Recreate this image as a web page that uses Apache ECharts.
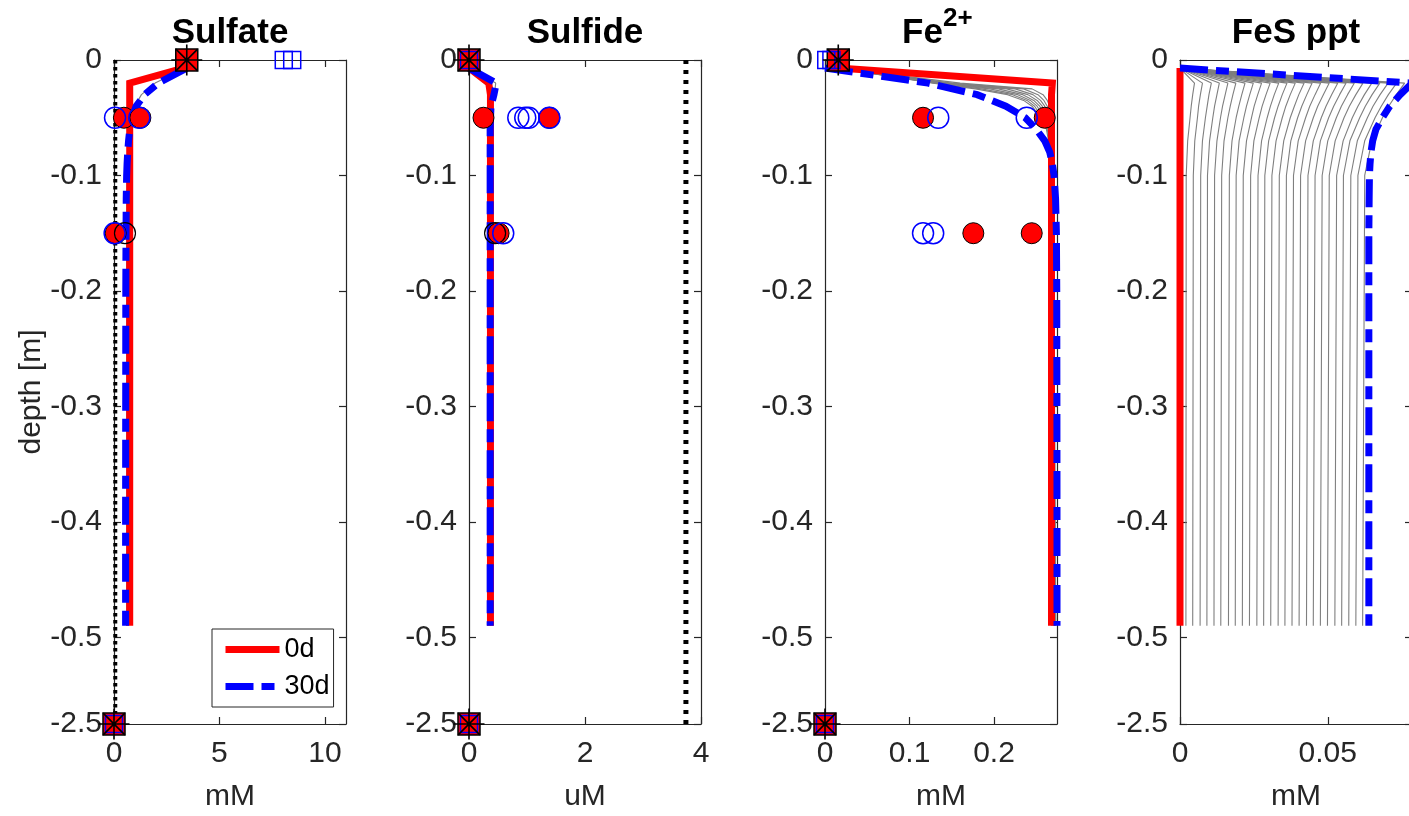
<!DOCTYPE html>
<html>
<head>
<meta charset="utf-8">
<script src="https://cdn.jsdelivr.net/npm/echarts@6/dist/echarts.min.js"></script>
<style>
  html, body { margin: 0; padding: 0; background: #ffffff; }
  #chart { width: 1409px; height: 816px; }
</style>
</head>
<body>
<div id="chart"></div>
<script>
// ---------------------------------------------------------------------------
// Depth profiles (m, negative downwards) after 0 and 30 days
// ---------------------------------------------------------------------------
const modelDepth = [-0.007, -0.02, -0.03, -0.04, -0.05, -0.06, -0.07, -0.08, -0.09, -0.1, -0.12, -0.15, -0.2, -0.3, -0.4, -0.49];

const sulfate0d  = [3.3, 0.745, 0.745, 0.745, 0.745, 0.745, 0.745, 0.745, 0.745, 0.745, 0.745, 0.745, 0.745, 0.745, 0.745, 0.745];
const sulfate30d = [3.45, 2.1, 1.45, 1.05, 0.85, 0.75, 0.69, 0.65, 0.62, 0.60, 0.58, 0.57, 0.56, 0.555, 0.55, 0.55];
const sulfateDays = [
  [3.4, 1.95, 1.3, 0.98, 0.82, 0.74, 0.69, 0.66, 0.64, 0.62, 0.61, 0.6, 0.6, 0.6, 0.6, 0.6]
];

const sulfide0d  = [0, 0.34, 0.37, 0.37, 0.37, 0.37, 0.37, 0.37, 0.37, 0.37, 0.37, 0.37, 0.37, 0.37, 0.37, 0.37];
const sulfide30d = [0, 0.47, 0.43, 0.38, 0.37, 0.365, 0.365, 0.365, 0.365, 0.365, 0.365, 0.365, 0.365, 0.365, 0.365, 0.365];
const sulfideDays = [
  [0, 0.46, 0.44, 0.38, 0.37, 0.366, 0.366, 0.366, 0.366, 0.366, 0.366, 0.366, 0.366, 0.366, 0.366, 0.366]
];

const fe0d  = [0.0157, 0.269, 0.268, 0.268, 0.268, 0.268, 0.268, 0.268, 0.268, 0.268, 0.268, 0.268, 0.268, 0.268, 0.268, 0.268];
const fe30d = [0.0, 0.122, 0.18, 0.214, 0.237, 0.25, 0.26, 0.266, 0.269, 0.271, 0.2728, 0.2738, 0.2742, 0.2744, 0.2745, 0.2745];
const feDayDepth = [-0.007, -0.02, -0.025, -0.03, -0.035, -0.04, -0.05, -0.06, -0.08, -0.1, -0.49];
const feDays = [
  [0.0157, 0.160, 0.245, 0.258, 0.263, 0.266, 0.267, 0.268, 0.268, 0.268, 0.268],
  [0.0157, 0.150, 0.235, 0.252, 0.259, 0.263, 0.266, 0.268, 0.269, 0.269, 0.269],
  [0.0157, 0.145, 0.225, 0.246, 0.255, 0.260, 0.265, 0.267, 0.269, 0.270, 0.270],
  [0.0157, 0.140, 0.215, 0.240, 0.251, 0.257, 0.263, 0.266, 0.269, 0.270, 0.271],
  [0.0157, 0.135, 0.205, 0.234, 0.247, 0.254, 0.261, 0.265, 0.268, 0.270, 0.272],
  [0.0157, 0.132, 0.195, 0.228, 0.243, 0.251, 0.259, 0.264, 0.268, 0.270, 0.272],
  [0.0157, 0.130, 0.185, 0.222, 0.239, 0.248, 0.257, 0.263, 0.267, 0.270, 0.273],
  [0.0157, 0.128, 0.178, 0.216, 0.235, 0.245, 0.255, 0.262, 0.267, 0.270, 0.273]
];

const fes0d  = [0, 0, 0, 0, 0, 0, 0, 0, 0, 0, 0, 0, 0, 0, 0, 0];
const fes30d = [0, 0.0785, 0.0745, 0.071, 0.0685, 0.0663, 0.0652, 0.0646, 0.0643, 0.0641, 0.064, 0.0639, 0.0639, 0.0639, 0.0639, 0.0639];
const fesDayDepth = [-0.007, -0.02, -0.03, -0.04, -0.05, -0.07, -0.1, -0.49];
const fesDays = [
  [0, 0.0049, 0.0043, 0.0038, 0.0034, 0.0026, 0.0021, 0.0020],
  [0, 0.0076, 0.0069, 0.0063, 0.0059, 0.0050, 0.0045, 0.0043],
  [0, 0.0106, 0.0098, 0.0092, 0.0086, 0.0076, 0.0070, 0.0068],
  [0, 0.0133, 0.0125, 0.0117, 0.0111, 0.0100, 0.0093, 0.0091],
  [0, 0.0162, 0.0153, 0.0144, 0.0137, 0.0125, 0.0117, 0.0115],
  [0, 0.0189, 0.0179, 0.0170, 0.0162, 0.0149, 0.0141, 0.0138],
  [0, 0.0220, 0.0209, 0.0199, 0.0190, 0.0176, 0.0167, 0.0164],
  [0, 0.0248, 0.0236, 0.0225, 0.0216, 0.0200, 0.0190, 0.0187],
  [0, 0.0276, 0.0263, 0.0251, 0.0242, 0.0225, 0.0214, 0.0211],
  [0, 0.0305, 0.0291, 0.0278, 0.0268, 0.0250, 0.0239, 0.0235],
  [0, 0.0334, 0.0319, 0.0306, 0.0295, 0.0276, 0.0264, 0.0260],
  [0, 0.0362, 0.0346, 0.0332, 0.0320, 0.0300, 0.0287, 0.0283],
  [0, 0.0390, 0.0373, 0.0358, 0.0346, 0.0325, 0.0311, 0.0307],
  [0, 0.0420, 0.0402, 0.0387, 0.0373, 0.0351, 0.0336, 0.0332],
  [0, 0.0447, 0.0429, 0.0412, 0.0398, 0.0375, 0.0360, 0.0355],
  [0, 0.0476, 0.0457, 0.0439, 0.0425, 0.0400, 0.0384, 0.0379],
  [0, 0.0505, 0.0485, 0.0466, 0.0451, 0.0425, 0.0408, 0.0403],
  [0, 0.0534, 0.0513, 0.0494, 0.0478, 0.0451, 0.0433, 0.0428],
  [0, 0.0562, 0.0540, 0.0520, 0.0503, 0.0475, 0.0457, 0.0451],
  [0, 0.0590, 0.0567, 0.0546, 0.0529, 0.0500, 0.0481, 0.0475],
  [0, 0.0619, 0.0595, 0.0573, 0.0555, 0.0525, 0.0505, 0.0499],
  [0, 0.0649, 0.0624, 0.0602, 0.0583, 0.0552, 0.0530, 0.0524],
  [0, 0.0676, 0.0650, 0.0627, 0.0608, 0.0575, 0.0553, 0.0547],
  [0, 0.0704, 0.0677, 0.0653, 0.0634, 0.0600, 0.0578, 0.0571],
  [0, 0.0733, 0.0705, 0.0681, 0.0660, 0.0625, 0.0602, 0.0595],
  [0, 0.0760, 0.0732, 0.0706, 0.0685, 0.0649, 0.0625, 0.0618]
];

// ---------------------------------------------------------------------------
// Measurements: [value, depth]
// ---------------------------------------------------------------------------
const sulfateObs0d  = [[0.47, -0.05], [1.25, -0.05], [0.08, -0.15]];
const sulfateObs30d = [[0.05, -0.05], [1.2, -0.05], [0.03, -0.15]];
const sulfateObsRep = [[0.52, -0.15]];
const sulfideObs0d  = [[0.25, -0.05], [1.385, -0.05], [0.51, -0.15]];
const sulfideObs30d = [[0.85, -0.05], [0.97, -0.05], [1.03, -0.05], [1.385, -0.05], [0.59, -0.15]];
const sulfideObsRep = [[0.45, -0.15]];
const feObs0d  = [[0.116, -0.05], [0.260, -0.05], [0.1755, -0.15], [0.2446, -0.15]];
const feObs30d = [[0.134, -0.05], [0.2387, -0.05], [0.116, -0.15], [0.128, -0.15]];

// Boundary values (overlying water at 0 m, deep boundary at -2.5 m)
const sulfateBound0d  = [[3.45, 0], [0, -2.5]];
const sulfateBound30d = [[8.05, 0], [8.45, 0], [0, -2.5]];
const sulfideBound0d  = [[0, 0], [0, -2.5]];
const sulfideBound30d = [[0, 0], [0, -2.5]];
const feBound0d  = [[0.0157, 0], [0, -2.5]];
const feBound30d = [[0.0015, 0], [0.0076, 0], [0, -2.5]];

// Reference levels (dotted)
const sulfateLimit = 0.06;
const sulfideLimit = 3.74;

// Panels and axes
const panelTitles = ['Sulfate', 'Sulfide', 'Fe', 'FeS ppt'];
const panelUnits  = ['mM', 'uM', 'mM', 'mM'];
const xMax   = [11, 4, 0.2745, 0.0785];
const xTicks = [[0, 5, 10], [0, 2, 4], [0, 0.1, 0.2], [0, 0.05]];
const yTickDepths = [0, -0.1, -0.2, -0.3, -0.4, -0.5, -2.5];

// ---------------------------------------------------------------------------
// Broken depth axis: 0 .. -0.5 m is linear, the deep boundary is compressed
// ---------------------------------------------------------------------------
function toAxis(d) {
  return d >= -0.5 ? d : -0.5 + (d + 0.5) * 0.0375;
}
const yTickPos = yTickDepths.map(toAxis);
function yLabel(v) {
  const i = yTickPos.findIndex(p => Math.abs(p - v) < 1e-9);
  return i >= 0 ? String(yTickDepths[i]) : '';
}

const FONT = '"Liberation Sans", Arial, Helvetica, sans-serif';
const INK = '#262626';
const RED = '#ff0000';
const BLUE = '#0000ff';
const GREY = '#7f7f7f';

const gridLeft = [114, 469, 825, 1180];
const gridTop = 60, gridW = 232, gridH = 664;

const grids = gridLeft.map(l => ({
  left: l, top: gridTop, width: gridW, height: gridH,
  containLabel: false, outerBoundsMode: 'none', show: false
}));

const xAxes = [], yAxes = [];
gridLeft.forEach((l, g) => {
  const tick = { show: true, inside: true, length: 7, customValues: xTicks[g], lineStyle: { color: INK, width: 1.2 } };
  const line = { show: true, onZero: false, lineStyle: { color: INK, width: 1.2 } };
  xAxes.push({
    type: 'value', gridIndex: g, position: 'bottom', min: 0, max: xMax[g],
    axisLine: line, axisTick: tick, splitLine: { show: false },
    axisLabel: { show: true, customValues: xTicks[g], margin: 15, color: INK, fontSize: 30, fontFamily: FONT,
                 formatter: v => String(v) },
    name: panelUnits[g], nameLocation: 'middle', nameGap: 58,
    nameTextStyle: { color: INK, fontSize: 30, fontFamily: FONT }
  });
  xAxes.push({
    type: 'value', gridIndex: g, position: 'top', min: 0, max: xMax[g],
    axisLine: line, axisTick: tick, splitLine: { show: false }, axisLabel: { show: false }
  });
  const ytick = { show: true, inside: true, length: 7, customValues: yTickPos, lineStyle: { color: INK, width: 1.2 } };
  yAxes.push({
    type: 'value', gridIndex: g, position: 'left', min: toAxis(-2.5), max: 0,
    axisLine: line, axisTick: ytick, splitLine: { show: false },
    axisLabel: { show: true, customValues: yTickPos, margin: 12, color: INK, fontSize: 30, fontFamily: FONT,
                 formatter: yLabel }
  });
  yAxes.push({
    type: 'value', gridIndex: g, position: 'right', min: toAxis(-2.5), max: 0,
    axisLine: line, axisTick: ytick, splitLine: { show: false }, axisLabel: { show: false }
  });
});

// ---------------------------------------------------------------------------
// Series builders
// ---------------------------------------------------------------------------
function profile(g, name, depths, values, lineStyle, z) {
  return {
    type: 'line', name: name, xAxisIndex: 2 * g, yAxisIndex: 2 * g,
    data: depths.map((d, i) => [values[i], toAxis(d)]),
    symbol: 'none', showSymbol: false, clip: false, silent: true, z: z,
    lineStyle: lineStyle
  };
}
function marks(g, name, points, symbol, size, itemStyle, z) {
  return {
    type: 'scatter', name: name, xAxisIndex: 2 * g, yAxisIndex: 2 * g,
    data: points.map(p => [p[0], toAxis(p[1])]),
    symbol: symbol, symbolSize: size, clip: false, silent: true, z: z,
    itemStyle: Object.assign({ opacity: 1 }, itemStyle)
  };
}

const redLine  = { color: RED, width: 7, type: 'solid', cap: 'butt', join: 'miter' };
const blueLine = { color: BLUE, width: 7, type: [28, 8, 13, 8], cap: 'butt', join: 'miter' };
const greyLine = { color: GREY, width: 1.1, type: 'solid' };
const redDot   = { color: RED, borderColor: '#000', borderWidth: 1 };
const blueRing = { color: 'none', borderColor: BLUE, borderWidth: 1.5 };
const blackRing = { color: 'none', borderColor: '#000', borderWidth: 1.2 };
const redSquare = { color: RED, borderColor: '#000', borderWidth: 1.5 };
const blueSquare = { color: 'none', borderColor: BLUE, borderWidth: 1.5 };
const starStyle = { color: 'none', borderColor: '#000', borderWidth: 1.6 };
const STAR = 'path://M0,-1L0,1M-1,0L1,0M-0.7,-0.7L0.7,0.7M-0.7,0.7L0.7,-0.7';

const series = [];
function panelProfiles(g, days, dayDepth, v0, v30) {
  days.forEach((row, k) => series.push(profile(g, 'day' + (k + 1), dayDepth, row, greyLine, 2)));
  series.push(profile(g, '0d', modelDepth, v0, redLine, 3));
  series.push(profile(g, '30d', modelDepth, v30, blueLine, 4));
}
panelProfiles(0, sulfateDays, modelDepth, sulfate0d, sulfate30d);
panelProfiles(1, sulfideDays, modelDepth, sulfide0d, sulfide30d);
panelProfiles(2, feDays, feDayDepth, fe0d, fe30d);
panelProfiles(3, fesDays, fesDayDepth, fes0d, fes30d);

// dotted reference levels
series.push(profile(0, 'limit', [0, -2.5], [sulfateLimit, sulfateLimit],
  { color: '#000', width: 4, type: [3.5, 3.5], cap: 'butt' }, 5));
series.push(profile(1, 'limit', [0, -2.5], [sulfideLimit, sulfideLimit],
  { color: '#000', width: 5, type: [4, 6], cap: 'butt' }, 5));

// measurements
[[0, sulfateObs0d, sulfateObsRep, sulfateObs30d],
 [1, sulfideObs0d, sulfideObsRep, sulfideObs30d],
 [2, feObs0d, [], feObs30d]].forEach(([g, o0, rep, o30]) => {
  series.push(marks(g, 'obs 0d', o0, 'circle', 21, redDot, 6));
  if (rep.length) series.push(marks(g, 'obs rep', rep, 'circle', 21, blackRing, 6));
  series.push(marks(g, 'obs 30d', o30, 'circle', 21, blueRing, 7));
});

// boundary values
[[0, sulfateBound0d, sulfateBound30d],
 [1, sulfideBound0d, sulfideBound30d],
 [2, feBound0d, feBound30d]].forEach(([g, b0, b30]) => {
  series.push(marks(g, 'bc 0d', b0, 'rect', 22, redSquare, 8));
  series.push(marks(g, 'bc 30d', b30, 'rect', 17, blueSquare, 9));
  series.push(marks(g, 'bc star', b0, STAR, 31, starStyle, 10));
});

// ---------------------------------------------------------------------------
// Titles and the shared depth label
// ---------------------------------------------------------------------------
const titleY = 33;
const graphics = [
  { type: 'text', x: 230, y: titleY, style: { text: panelTitles[0], font: 'bold 35px ' + FONT, fill: '#000', align: 'center', verticalAlign: 'middle' } },
  { type: 'text', x: 585, y: titleY, style: { text: panelTitles[1], font: 'bold 35px ' + FONT, fill: '#000', align: 'center', verticalAlign: 'middle' } },
  { type: 'text', x: 902, y: titleY, style: { text: panelTitles[2], font: 'bold 35px ' + FONT, fill: '#000', align: 'left', verticalAlign: 'middle' } },
  { type: 'text', x: 943, y: 19, style: { text: '2+', font: 'bold 26px ' + FONT, fill: '#000', align: 'left', verticalAlign: 'middle' } },
  { type: 'text', x: 1296, y: titleY, style: { text: panelTitles[3], font: 'bold 35px ' + FONT, fill: '#000', align: 'center', verticalAlign: 'middle' } },
  { type: 'text', x: 32, y: 392, rotation: Math.PI / 2,
    style: { text: 'depth [m]', font: '30px ' + FONT, fill: INK, align: 'center', verticalAlign: 'middle' } }
];

const chart = echarts.init(document.getElementById('chart'), null, { renderer: 'canvas' });
chart.setOption({
  animation: false,
  backgroundColor: '#ffffff',
  textStyle: { fontFamily: FONT },
  grid: grids,
  xAxis: xAxes,
  yAxis: yAxes,
  legend: {
    data: ['0d', '30d'],
    orient: 'vertical', left: 212, top: 629,
    padding: [7, 4, 7, 10], itemGap: 10,
    itemWidth: 54, itemHeight: 27,
    selectedMode: false,
    backgroundColor: '#ffffff', borderColor: INK, borderWidth: 1, borderRadius: 0,
    textStyle: { color: '#000', fontSize: 27, fontFamily: FONT, lineHeight: 27 },
    itemStyle: { opacity: 0, borderWidth: 0 },
    lineStyle: { width: 7 },
    z: 20
  },
  graphic: graphics,
  series: series
});
</script>
</body>
</html>
